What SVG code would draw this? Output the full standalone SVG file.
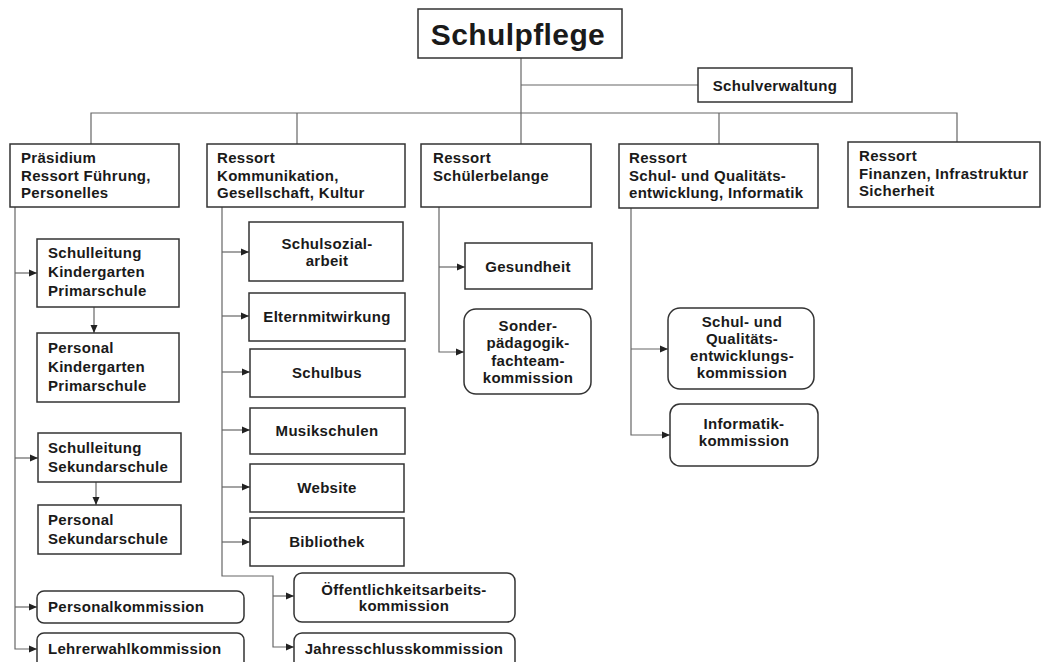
<svg xmlns="http://www.w3.org/2000/svg" width="1043" height="662" viewBox="0 0 1043 662">
<style>
.b{fill:#fff;stroke:#333;stroke-width:1.5}
.c{fill:none;stroke:#666;stroke-width:1.2}
.a{marker-end:url(#ah)}
text{font-family:"Liberation Sans",Arial,sans-serif;font-weight:bold;font-size:15px;letter-spacing:0.3px;fill:#1a1a1a}
.m{text-anchor:middle}
</style>
<defs>
<marker id="ah" markerUnits="userSpaceOnUse" markerWidth="8" markerHeight="8" refX="8" refY="4" orient="auto">
<path d="M0,0.5 L8,4 L0,7.5 z" fill="#222"/>
</marker>
</defs>
<rect width="1043" height="662" fill="#fff"/>
<g id="connectors">
<path class="c" d="M521,58 V144"/>
<path class="c" d="M521,85 H698"/>
<path class="c" d="M91,144 V113 H957 V142"/>
<path class="c" d="M297,113 V144"/>
<path class="c" d="M719,113 V144"/>
<path class="c a" d="M15,207 V649 H37"/>
<path class="c a" d="M15,273 H37"/>
<path class="c a" d="M15,458 H38"/>
<path class="c a" d="M15,607 H37"/>
<path class="c a" d="M94,307 V333"/>
<path class="c a" d="M96,482 V505"/>
<path class="c a" d="M222,207 V576 H273 V647 H294"/>
<path class="c a" d="M222,252 H249"/>
<path class="c a" d="M222,316 H249"/>
<path class="c a" d="M222,372 H250"/>
<path class="c a" d="M222,430 H250"/>
<path class="c a" d="M222,487 H250"/>
<path class="c a" d="M222,542 H250"/>
<path class="c a" d="M273,596 H294"/>
<path class="c a" d="M439,207 V352 H464"/>
<path class="c a" d="M439,267 H465"/>
<path class="c a" d="M631,208 V435 H670"/>
<path class="c a" d="M631,349 H668"/>
</g>
<g id="schulpflege"><rect class="b" x="418" y="9" width="204" height="49"/><text class="m" x="518" y="45" style="font-size:30px;letter-spacing:0.4px">Schulpflege</text></g>
<g id="schulverwaltung"><rect class="b" x="698" y="68" width="154" height="34"/><text class="m" x="775" y="91">Schulverwaltung</text></g>
<g id="praesidium"><rect class="b" x="10" y="144" width="169" height="63"/><text x="21" y="163">Präsidium</text><text x="21" y="181">Ressort Führung,</text><text x="21" y="198">Personelles</text></g>
<g id="kommunikation"><rect class="b" x="207" y="144" width="198" height="63"/><text x="217" y="163">Ressort</text><text x="217" y="181">Kommunikation,</text><text x="217" y="198">Gesellschaft, Kultur</text></g>
<g id="schuelerbelange"><rect class="b" x="421" y="144" width="170" height="63"/><text x="433" y="163">Ressort</text><text x="433" y="181">Schülerbelange</text></g>
<g id="qualitaet"><rect class="b" x="619" y="144" width="199" height="64"/><text x="629" y="163">Ressort</text><text x="629" y="181">Schul- und Qualitäts-</text><text x="629" y="198">entwicklung, Informatik</text></g>
<g id="finanzen"><rect class="b" x="848" y="142" width="192" height="65"/><text x="859" y="161">Ressort</text><text x="859" y="179">Finanzen, Infrastruktur</text><text x="859" y="196">Sicherheit</text></g>
<g id="sl-kp"><rect class="b" x="37" y="239" width="142" height="68"/><text x="48" y="258">Schulleitung</text><text x="48" y="277">Kindergarten</text><text x="48" y="296">Primarschule</text></g>
<g id="p-kp"><rect class="b" x="37" y="333" width="142" height="69"/><text x="48" y="353">Personal</text><text x="48" y="372">Kindergarten</text><text x="48" y="391">Primarschule</text></g>
<g id="sl-sek"><rect class="b" x="38" y="433" width="143" height="49"/><text x="48" y="453">Schulleitung</text><text x="48" y="472">Sekundarschule</text></g>
<g id="p-sek"><rect class="b" x="38" y="505" width="143" height="49"/><text x="48" y="525">Personal</text><text x="48" y="544">Sekundarschule</text></g>
<g id="personalkommission"><rect class="b" x="37" y="591" width="207" height="32" rx="7"/><text x="48" y="612">Personalkommission</text></g>
<g id="lehrerwahlkommission"><rect class="b" x="37" y="633" width="207" height="40" rx="7"/><text x="48" y="654">Lehrerwahlkommission</text></g>
<g id="schulsozialarbeit"><rect class="b" x="249" y="222" width="154" height="59"/><text class="m" x="327" y="249">Schulsozial-</text><text class="m" x="327" y="266">arbeit</text></g>
<g id="elternmitwirkung"><rect class="b" x="249" y="293" width="156" height="48"/><text class="m" x="327" y="322">Elternmitwirkung</text></g>
<g id="schulbus"><rect class="b" x="250" y="349" width="155" height="48"/><text class="m" x="327" y="378">Schulbus</text></g>
<g id="musikschulen"><rect class="b" x="250" y="408" width="155" height="46"/><text class="m" x="327" y="436">Musikschulen</text></g>
<g id="website"><rect class="b" x="250" y="464" width="154" height="48"/><text class="m" x="327" y="493">Website</text></g>
<g id="bibliothek"><rect class="b" x="250" y="518" width="154" height="48"/><text class="m" x="327" y="547">Bibliothek</text></g>
<g id="oeffentlichkeit"><rect class="b" x="294" y="573" width="221" height="49" rx="8"/><text class="m" x="404" y="595">Öffentlichkeitsarbeits-</text><text class="m" x="404" y="611">kommission</text></g>
<g id="jahresschluss"><rect class="b" x="294" y="633" width="221" height="40" rx="8"/><text class="m" x="404" y="654">Jahresschlusskommission</text></g>
<g id="gesundheit"><rect class="b" x="465" y="243" width="127" height="46"/><text class="m" x="528" y="272">Gesundheit</text></g>
<g id="sonderpaedagogik"><rect class="b" x="464" y="309" width="127" height="85" rx="12"/><text class="m" x="528" y="331">Sonder-</text><text class="m" x="528" y="348">pädagogik-</text><text class="m" x="528" y="366">fachteam-</text><text class="m" x="528" y="383">kommission</text></g>
<g id="sqe-kommission"><rect class="b" x="668" y="308" width="146" height="81" rx="12"/><text class="m" x="742" y="327">Schul- und</text><text class="m" x="742" y="344">Qualitäts-</text><text class="m" x="742" y="361">entwicklungs-</text><text class="m" x="742" y="378">kommission</text></g>
<g id="informatik"><rect class="b" x="670" y="404" width="148" height="62" rx="10"/><text class="m" x="744" y="429">Informatik-</text><text class="m" x="744" y="446">kommission</text></g>
</svg>
